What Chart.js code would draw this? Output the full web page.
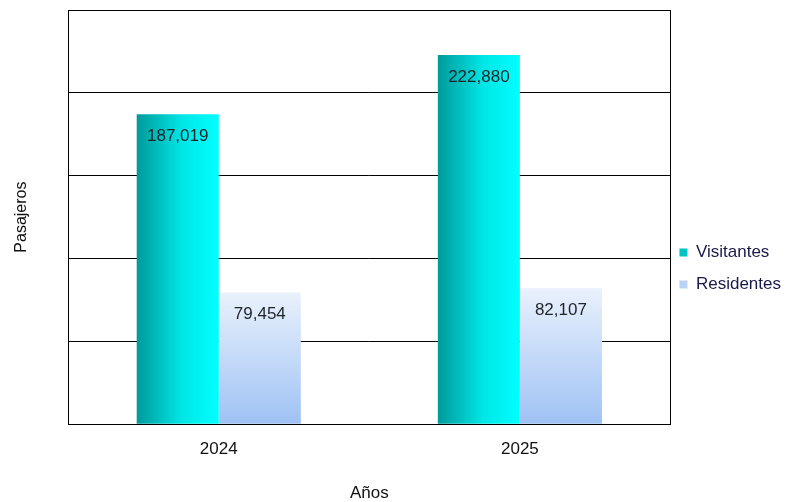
<!DOCTYPE html>
<html>
<head>
<meta charset="utf-8">
<script src="https://cdn.jsdelivr.net/npm/chart.js@4"></script>
<style>
  body { margin: 0; background: #fff; }
  #wrap { width: 791px; height: 502px; }
</style>
</head>
<body>
<div id="wrap"><canvas id="chart"></canvas></div>
<script>
const years = ["2024", "2025"];
const visitantes = [187019, 222880];
const residentes = [79454, 82107];

const FONT = "'Liberation Sans', Arial, sans-serif";

// bars get their gradients once positions are known
const barGradients = {
  id: "barGradients",
  beforeDatasetsDraw(chart) {
    const ctx = chart.ctx;
    chart.data.datasets.forEach((ds, i) => {
      chart.getDatasetMeta(i).data.forEach((bar) => {
        let g;
        if (i === 0) {
          g = ctx.createLinearGradient(bar.x - bar.width / 2, 0, bar.x + bar.width / 2, 0);
          g.addColorStop(0, "#009a9a");
          g.addColorStop(0.55, "#00e6e6");
          g.addColorStop(1, "#00ffff");
        } else {
          g = ctx.createLinearGradient(0, bar.y, 0, bar.base);
          g.addColorStop(0, "#e9f1fc");
          g.addColorStop(1, "#9fc2f4");
        }
        bar.options = Object.assign({}, bar.options, { backgroundColor: g });
      });
    });
  },
};

const valueLabels = {
  id: "valueLabels",
  afterDatasetsDraw(chart) {
    const ctx = chart.ctx;
    ctx.save();
    ctx.font = "17px " + FONT;
    ctx.fillStyle = "#1f2328";
    ctx.textAlign = "center";
    ctx.textBaseline = "middle";
    chart.data.datasets.forEach((ds, i) => {
      chart.getDatasetMeta(i).data.forEach((bar, j) => {
        ctx.fillText(ds.data[j].toLocaleString("en-US"), bar.x, bar.y + 22);
      });
    });
    ctx.restore();
  },
};

const frame = {
  id: "frame",
  afterDraw(chart) {
    const a = chart.chartArea;
    const ctx = chart.ctx;
    ctx.save();
    ctx.strokeStyle = "#000";
    ctx.lineWidth = 1;
    ctx.strokeRect(Math.round(a.left) + 0.5, Math.round(a.top) + 0.5,
      Math.round(a.right - a.left), Math.round(a.bottom - a.top));
    ctx.restore();
  },
};

new Chart(document.getElementById("chart"), {
  type: "bar",
  data: {
    labels: years,
    datasets: [
      { label: "Visitantes", data: visitantes, backgroundColor: "#00c4c4" },
      { label: "Residentes", data: residentes, backgroundColor: "#bcd2f3" },
    ],
  },
  options: {
    responsive: true,
    maintainAspectRatio: false,
    animation: false,
    categoryPercentage: 0.545,
    barPercentage: 1,
    layout: { padding: { left: 10, top: 10, right: 0, bottom: -2 } },
    plugins: {
      tooltip: { enabled: false },
      legend: {
        position: "right",
        title: { display: true, text: " ", font: { size: 1 }, padding: { top: 28, bottom: 0 } },
        labels: {
          boxWidth: 8,
          boxHeight: 8,
          padding: 9,
          color: "#1a1a4a",
          font: { family: FONT, size: 17, lineHeight: 23 / 17 },
          generateLabels(chart) {
            return Chart.defaults.plugins.legend.labels.generateLabels(chart).map((item) => {
              item.text = [item.text];
              return item;
            });
          },
        },
      },
    },
    scales: {
      x: {
        grid: { display: false },
        border: { color: "#000" },
        ticks: {
          color: "#111",
          padding: 7,
          font: { family: FONT, size: 17 },
        },
        title: {
          display: true,
          text: "Años",
          color: "#111",
          padding: { top: 17, bottom: 0 },
          font: { family: FONT, size: 17 },
        },
      },
      y: {
        min: 0,
        max: 250000,
        ticks: { display: false, stepSize: 50000 },
        grid: { color: "#000", drawTicks: false },
        border: { color: "#000" },
        title: {
          display: true,
          text: "Pasajeros",
          color: "#111",
          padding: { top: 2, bottom: 37 },
          font: { family: FONT, size: 16 },
        },
      },
    },
  },
  plugins: [barGradients, valueLabels, frame],
});
</script>
</body>
</html>
